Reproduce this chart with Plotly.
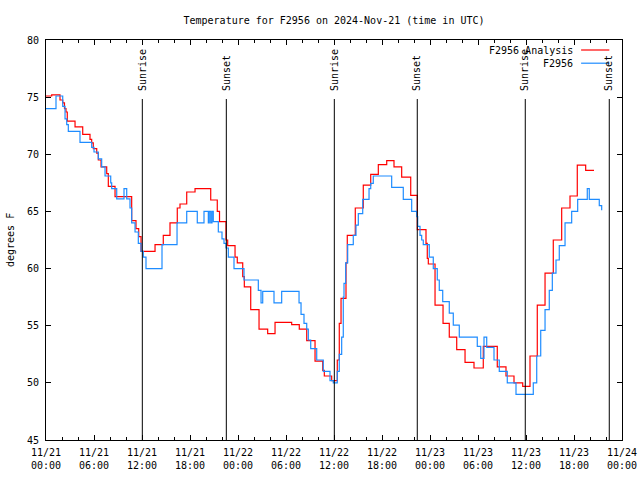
import pandas as pd
import plotly.graph_objects as go

BASE = "2024-11-21 00:00"

# F2956 Analysis (red) : hours since BASE, temperature degF
analysis_hours = [0.0, 0.71, 1.75, 2.09, 2.31, 2.5, 2.66, 3.63, 4.59, 5.5, 5.71, 5.91, 6.34, 6.54,
                  6.88, 7.59, 7.79, 8.63, 10.71, 11.25, 11.59, 11.88, 13.63, 14.66, 15.5, 16.41,
                  16.75, 17.59, 18.63, 20.59, 21.41, 21.69, 22.5, 22.71, 23.63, 23.91, 24.59, 24.79,
                  25.59, 26.63, 27.71, 28.63, 30.71, 31.66, 32.59, 33.63, 34.59, 34.79, 35.71, 36.41,
                  36.66, 36.88, 37.5, 37.66, 38.66, 39.66, 40.59, 41.54, 42.59, 43.5, 44.46, 45.59,
                  46.41, 47.5, 47.66, 47.79, 48.63, 49.63, 50.41, 51.34, 52.38, 53.5, 54.66, 56.41,
                  57.5, 58.5, 59.59, 60.5, 61.41, 62.38, 63.41, 64.46, 65.5, 66.41, 67.46, 68.5]
analysis_temp = [75.1, 75.2, 74.75, 74.5, 74.0, 73.7, 72.9, 72.4, 71.75, 71.3, 71.0, 70.5, 70.1, 69.5,
                 68.9, 68.3, 67.2, 66.3, 64.2, 63.5, 62.8, 61.5, 62.1, 62.9, 64.0, 65.3,
                 65.65, 66.7, 67.0, 66.0, 65.0, 64.1, 62.5, 62.0, 61.0, 60.5, 59.3, 58.4,
                 56.4, 54.7, 54.3, 55.3, 55.1, 54.7, 53.7, 51.9, 51.1, 50.6, 50.2, 52.0,
                 55.2, 57.4, 60.5, 62.9, 65.3, 67.3, 68.25, 69.1, 69.45, 68.9, 68.0, 66.4,
                 63.4, 62.2, 60.9, 60.4, 56.8, 55.2, 54.0, 52.9, 51.8, 51.3, 53.2, 51.4,
                 50.6, 50.0, 49.7, 52.35, 56.8, 59.6, 62.5, 65.3, 66.35, 69.05, 68.6, 68.6]

# F2956 observations (blue)
obs_hours = [0.0, 1.25, 2.09, 2.38, 2.59, 2.79, 4.25, 5.71, 6.0, 6.54, 6.96, 7.38, 8.09, 8.21,
             8.84, 9.75, 10.09, 10.5, 10.71, 11.13, 11.54, 11.88, 12.16, 12.5, 14.5, 16.38,
             17.59, 18.91, 19.75, 20.29, 20.41, 20.59, 20.75, 20.91, 21.54, 22.0, 22.25, 22.5,
             22.79, 23.5, 24.75, 26.54, 26.88, 27.09, 28.5, 29.46, 31.63, 31.88, 32.25, 32.59,
             32.79, 33.09, 33.84, 34.66, 35.5, 35.91, 36.41, 36.66, 36.96, 37.16, 37.25, 37.46,
             37.71, 38.41, 38.75, 39.04, 39.59, 40.38, 40.59, 40.91, 43.21, 44.66, 45.71, 46.34,
             46.46, 46.75, 46.96, 47.16, 47.91, 48.41, 48.91, 49.16, 49.59, 50.41, 50.91, 51.66,
             53.91, 54.34, 54.75, 55.09, 56.0, 56.66, 57.66, 58.75, 60.91, 61.34, 61.84, 62.38,
             62.91, 63.29, 63.75, 64.16, 64.88, 65.71, 66.46, 67.66, 67.91, 69.16, 69.46]
obs_temp = [74.0, 75.1, 74.2, 73.1, 72.6, 72.0, 71.05, 70.6, 70.2, 69.6, 68.9, 68.1, 67.5, 67.0,
            66.1, 67.0, 66.1, 65.3, 64.0, 63.2, 62.2, 61.5, 61.0, 60.0, 62.1, 64.0,
            65.0, 64.0, 65.0, 64.0, 65.0, 64.0, 65.0, 64.1, 63.2, 62.6, 62.2, 61.8,
            61.0, 60.0, 59.0, 58.1, 57.0, 58.0, 57.0, 58.0, 57.0, 56.0, 55.2, 54.7,
            53.75, 53.0, 52.0, 51.0, 50.2, 50.0, 51.0, 52.5, 54.0, 57.5, 58.7, 60.5,
            62.1, 62.9, 63.8, 64.8, 66.05, 67.0, 67.45, 68.1, 67.1, 66.05, 65.0, 64.55,
            63.7, 62.9, 62.5, 62.1, 61.0, 60.0, 59.0, 58.1, 57.1, 56.1, 55.05, 54.0,
            53.2, 52.15, 54.0, 53.1, 52.0, 51.0, 50.0, 49.0, 50.0, 52.35, 54.6, 56.4,
            58.1, 59.6, 60.75, 62.0, 64.0, 65.0, 66.05, 67.0, 66.05, 65.5, 65.1]

sun_labels = ["Sunrise", "Sunset", "Sunrise", "Sunset", "Sunrise", "Sunset"]
sun_hours = [12.04, 22.54, 36.04, 46.41, 59.91, 70.41]

series_names = ["F2956 Analysis", "F2956"]
series_colors = ["#ff0000", "#1e8cff"]

base = pd.Timestamp(BASE)
def to_time(h):
    return base + pd.to_timedelta(h, unit="h")

FONT = "DejaVu Sans Mono"

fig = go.Figure()
fig.add_trace(go.Scatter(x=to_time(analysis_hours), y=analysis_temp, mode="lines",
                         line=dict(color=series_colors[0], width=1.2, shape="hv"),
                         name=series_names[0], showlegend=False))
fig.add_trace(go.Scatter(x=to_time(obs_hours), y=obs_temp, mode="lines",
                         line=dict(color=series_colors[1], width=1.2, shape="hv"),
                         name=series_names[1], showlegend=False))

# sunrise / sunset markers
for lab, h in zip(sun_labels, sun_hours):
    t = to_time(h)
    fig.add_shape(type="line", xref="x", yref="paper", x0=t, x1=t, y0=0, y1=0.8525,
                  line=dict(color="black", width=1))
    fig.add_annotation(x=t, xref="x", y=0.868, yref="paper", text=lab, textangle=-90,
                       showarrow=False, xanchor="center", yanchor="bottom",
                       font=dict(family=FONT, size=10, color="black"))

# gnuplot-style key (text then line sample)
key_y = [0.975, 0.942]
for name, col, ky in zip(series_names, series_colors, key_y):
    fig.add_annotation(x=0.918, y=ky, xref="paper", yref="paper", text=name, showarrow=False,
                       xanchor="right", yanchor="middle",
                       font=dict(family=FONT, size=10, color="black"))
    fig.add_shape(type="line", xref="paper", yref="paper", x0=0.929, x1=0.978, y0=ky, y1=ky,
                  line=dict(color=col, width=1.2))

fig.add_annotation(x=-0.0625, y=0.5, xref="paper", yref="paper", text="degrees F",
                   textangle=-90, showarrow=False, xanchor="center", yanchor="middle",
                   font=dict(family=FONT, size=10, color="black"))

fig.update_layout(
    width=640, height=480,
    margin=dict(l=46, r=18, t=40, b=40, autoexpand=False),
    paper_bgcolor="white", plot_bgcolor="white",
    font=dict(family=FONT, size=10, color="black"),
    title=dict(text="Temperature for F2956 on 2024-Nov-21 (time in UTC)", x=0.5, xref="paper",
               y=1 - 20 / 480, yref="container", xanchor="center", yanchor="middle",
               font=dict(family=FONT, size=10, color="black")),
    showlegend=False,
)
fig.update_xaxes(
    type="date", range=[to_time(0), to_time(72)], automargin=False,
    tick0=to_time(0), dtick=6 * 3600 * 1000, tickformat="%m/%d<br>%H:%M",
    ticks="inside", ticklen=5, tickcolor="black", showgrid=False, zeroline=False,
    showline=True, linecolor="black", linewidth=1, mirror="ticks", ticklabelstandoff=3,
    minor=dict(ticks="inside", dtick=2 * 3600 * 1000, ticklen=3, tickcolor="black", showgrid=False),
    tickfont=dict(family=FONT, size=10, color="black"),
)
fig.update_yaxes(
    range=[45, 80], dtick=5, tick0=45, automargin=False,
    ticks="inside", ticklen=5, tickcolor="black", showgrid=False, zeroline=False,
    showline=True, linecolor="black", linewidth=1, mirror="ticks", ticklabelstandoff=4,
    tickfont=dict(family=FONT, size=10, color="black"),
)

fig.write_html("out.html", config={"displayModeBar": False},
               post_script="document.body.style.margin='0px';")
